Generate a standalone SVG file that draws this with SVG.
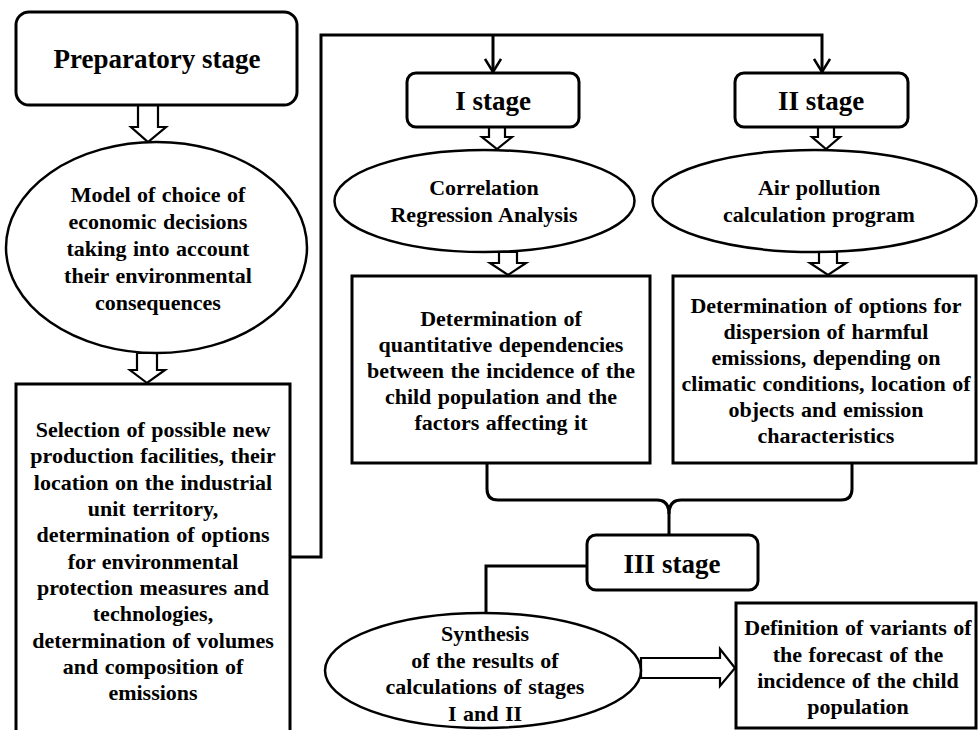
<svg xmlns="http://www.w3.org/2000/svg" width="978" height="730" viewBox="0 0 978 730">
<style>
  .box { fill: #fff; stroke: #000; stroke-width: 3; }
  .ell { fill: #fff; stroke: #000; stroke-width: 2.5; }
  .hollow { fill: #fff; stroke: #000; stroke-width: 2.2; stroke-linejoin: miter; }
  .line { fill: none; stroke: #000; stroke-width: 3; }
  text { font-family: "Liberation Serif", "Times New Roman", serif; font-weight: bold; fill: #000; text-anchor: middle; }
  .big { font-size: 27px; }
  .t { font-size: 22px; word-spacing: 1px; }
</style>
<defs>
  <marker id="open" viewBox="-1 -9 16 18" refX="13" refY="0" markerWidth="16" markerHeight="18" markerUnits="userSpaceOnUse" orient="auto">
    <path d="M0,-8 L13,0 L0,8" fill="none" stroke="#000" stroke-width="2.5"/>
  </marker>
</defs>
<rect width="978" height="730" fill="#fff"/>

<g id="connectors">
  <path class="line" d="M290,557 H321 V35 H822 V72" marker-end="url(#open)"/>
  <path class="line" d="M493,35 V72" marker-end="url(#open)"/>
  <path class="line" d="M487,463 V489 Q487,500 498,500 H657 Q669,500 669,514 V535"/>
  <path class="line" d="M852,463 V489 Q852,500 841,500 H681 Q669,500 669,514"/>
  <path class="line" d="M587,566 H486 V613"/>
  <polygon class="hollow" points="138,105 158,105 158,127 166,127 148,142 131,127 138,127"/>
  <polygon class="hollow" points="137,353 157,353 157,370 165,370 147,383 130,370 137,370"/>
  <polygon class="hollow" points="489,127 505,127 505,137 512,137 497,149 482,137 489,137"/>
  <polygon class="hollow" points="499,252 517,252 517,263 526,263 508,275 490,263 499,263"/>
  <polygon class="hollow" points="818,127 834,127 834,137 840,137 826,149 812,137 818,137"/>
  <polygon class="hollow" points="819,252 837,252 837,263 846,263 828,275 810,263 819,263"/>
  <polygon class="hollow" points="641,658 720,658 720,649 735,668 720,686 720,678 641,678"/>
</g>

<g id="preparatory">
  <rect class="box" x="16" y="12" width="281" height="93" rx="13"/>
  <text class="big" x="157" y="68">Preparatory stage</text>
</g>

<g id="model">
  <ellipse class="ell" cx="156.5" cy="247.5" rx="150.5" ry="105.5"/>
  <text class="t" x="158" y="202">Model of choice of</text>
  <text class="t" x="158" y="229">economic decisions</text>
  <text class="t" x="158" y="256">taking into account</text>
  <text class="t" x="158" y="283">their environmental</text>
  <text class="t" x="158" y="310">consequences</text>
</g>

<g id="selection">
  <rect class="box" x="16" y="384" width="274" height="360"/>
  <text class="t" x="153" y="437">Selection of possible new</text>
  <text class="t" x="153" y="463">production facilities, their</text>
  <text class="t" x="153" y="489.5">location on the industrial</text>
  <text class="t" x="153" y="516">unit territory,</text>
  <text class="t" x="153" y="542">determination of options</text>
  <text class="t" x="153" y="568.5">for environmental</text>
  <text class="t" x="153" y="595">protection measures and</text>
  <text class="t" x="153" y="621">technologies,</text>
  <text class="t" x="153" y="647.5">determination of volumes</text>
  <text class="t" x="153" y="674">and composition of</text>
  <text class="t" x="153" y="700">emissions</text>
</g>

<g id="stage1">
  <rect class="box" x="407" y="73" width="172" height="54" rx="9"/>
  <text class="big" x="493" y="110">I stage</text>
</g>

<g id="stage2">
  <rect class="box" x="735" y="73" width="173" height="54" rx="9"/>
  <text class="big" x="821" y="110">II stage</text>
</g>

<g id="correlation">
  <ellipse class="ell" cx="484.5" cy="201" rx="150" ry="51"/>
  <text class="t" x="484" y="195">Correlation</text>
  <text class="t" x="484" y="222">Regression Analysis</text>
</g>

<g id="airpollution">
  <ellipse class="ell" cx="814.5" cy="201" rx="162" ry="51"/>
  <text class="t" x="819" y="195">Air pollution</text>
  <text class="t" x="819" y="222">calculation program</text>
</g>

<g id="dependencies">
  <rect class="box" x="352" y="276" width="298" height="187"/>
  <text class="t" x="501" y="326">Determination of</text>
  <text class="t" x="501" y="352">quantitative dependencies</text>
  <text class="t" x="501" y="378">between the incidence of the</text>
  <text class="t" x="501" y="404">child population and the</text>
  <text class="t" x="501" y="430">factors affecting it</text>
</g>

<g id="dispersion">
  <rect class="box" x="673" y="276" width="303" height="187"/>
  <text class="t" x="826" y="313">Determination of options for</text>
  <text class="t" x="826" y="339">dispersion of harmful</text>
  <text class="t" x="826" y="365">emissions, depending on</text>
  <text class="t" x="826" y="391">climatic conditions, location of</text>
  <text class="t" x="826" y="417">objects and emission</text>
  <text class="t" x="826" y="443">characteristics</text>
</g>

<g id="stage3">
  <rect class="box" x="587" y="535" width="171" height="55" rx="9"/>
  <text class="big" x="672" y="573">III stage</text>
</g>

<g id="synthesis">
  <ellipse class="ell" cx="483" cy="670.5" rx="158" ry="57.5"/>
  <text class="t" x="485" y="641">Synthesis</text>
  <text class="t" x="485" y="668">of the results of</text>
  <text class="t" x="485" y="694">calculations of stages</text>
  <text class="t" x="485" y="721">I and II</text>
</g>

<g id="forecast">
  <rect class="box" x="736" y="603" width="240" height="125"/>
  <text class="t" x="858" y="635">Definition of variants of</text>
  <text class="t" x="858" y="662">the forecast of the</text>
  <text class="t" x="858" y="688">incidence of the child</text>
  <text class="t" x="858" y="714">population</text>
</g>
</svg>
